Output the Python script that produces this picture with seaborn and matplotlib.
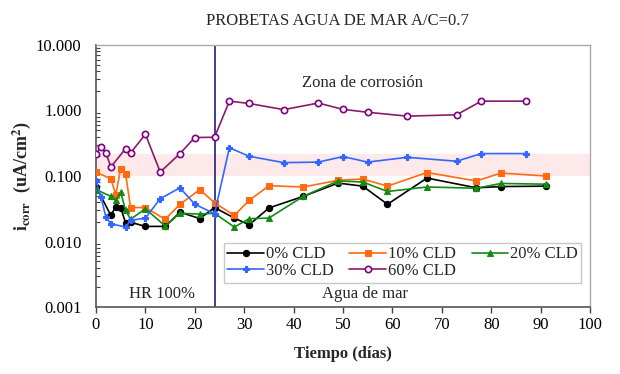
import matplotlib
matplotlib.use("Agg")
import matplotlib.pyplot as plt
import matplotlib.ticker as mticker
import seaborn as sns
import pandas as pd
import numpy as np

# ---- data ----
x_0 = [0, 3, 4, 5, 6, 7, 10, 14, 17, 21, 24, 28, 31, 35, 42, 49, 54, 59, 67, 77, 82, 91]
y_0 = [0.069, 0.025, 0.034, 0.033, 0.019, 0.0197, 0.017, 0.017, 0.028, 0.0224, 0.033,
       0.0228, 0.018, 0.0325, 0.049, 0.078, 0.070, 0.037, 0.093, 0.066, 0.069, 0.070]

x_10 = [0, 3, 4, 5, 6, 7, 10, 14, 17, 21, 24, 28, 31, 35, 42, 49, 54, 59, 67, 77, 82, 91]
y_10 = [0.114, 0.091, 0.052, 0.13, 0.106, 0.033, 0.033, 0.0218, 0.037, 0.062, 0.039,
        0.025, 0.0425, 0.071, 0.068, 0.086, 0.090, 0.070, 0.113, 0.084, 0.111, 0.100]

x_20 = [0, 3, 4, 5, 6, 7, 10, 14, 17, 21, 24, 28, 31, 35, 42, 49, 54, 59, 67, 77, 82, 91]
y_20 = [0.062, 0.049, 0.0425, 0.056, 0.030, 0.0218, 0.0317, 0.0172, 0.027, 0.0262, 0.027,
        0.0166, 0.0223, 0.0228, 0.049, 0.084, 0.081, 0.058, 0.068, 0.065, 0.077, 0.075]

x_30 = [0, 1, 2, 3, 6, 7, 10, 13, 17, 20, 24, 27, 31, 38, 45, 50, 55, 63, 73, 78, 87]
y_30 = [0.083, 0.048, 0.0236, 0.0187, 0.0166, 0.021, 0.0228, 0.045, 0.066, 0.037, 0.0266,
        0.27, 0.20, 0.16, 0.163, 0.198, 0.163, 0.193, 0.168, 0.22, 0.22]

x_60 = [0, 1, 2, 3, 6, 7, 10, 13, 17, 20, 24, 27, 31, 38, 45, 50, 55, 63, 73, 78, 87]
y_60 = [0.215, 0.277, 0.228, 0.137, 0.262, 0.225, 0.434, 0.115, 0.22, 0.387, 0.39,
        1.39, 1.28, 1.03, 1.30, 1.04, 0.94, 0.82, 0.86, 1.39, 1.39]

labels = ["0% CLD", "10% CLD", "20% CLD", "30% CLD", "60% CLD"]
yticks = [0.001, 0.01, 0.1, 1, 10]
ytick_labels = ["0.001", "0.010", "0.100", "1.000", "10.000"]
xticks = [0, 10, 20, 30, 40, 50, 60, 70, 80, 90, 100]
band = (0.1, 0.22)
vline_x = 24

sns.set_theme(style="white")
plt.rcParams["font.family"] = ["Liberation Serif", "DejaVu Serif"]
plt.rcParams["mathtext.fontset"] = "stix"

fig = plt.figure(figsize=(6.2, 3.74), dpi=100)
ax = fig.add_axes([96/620, 1-307/374, (590-96)/620, (307-45)/374])

ax.axhspan(band[0], band[1], color="#FDE9E9", zorder=0, lw=0)
ax.axvline(vline_x, color="#1F1F7A", lw=1.2, zorder=1)

styles = [
    dict(color="black", marker="o", ms=4.5, mfc="black", mec="black"),
    dict(color="#FF6A13", marker="s", ms=5, mfc="#FF6A13", mec="#FF6A13"),
    dict(color="#138A13", marker="^", ms=5, mfc="#138A13", mec="#138A13"),
    dict(color="#3366FF", marker="P", ms=4.5, mfc="#3366FF", mec="#3366FF"),
    dict(color="#8B1A6B", marker="o", ms=4.5, mfc="white", mec="#800080", mew=1.2),
]
series = [(x_0, y_0), (x_10, y_10), (x_20, y_20), (x_30, y_30), (x_60, y_60)]
for (xs, ys), lab, st in zip(series, labels, styles):
    df = pd.DataFrame({"x": xs, "y": ys})
    sns.lineplot(data=df, x="x", y="y", ax=ax, sort=False, label=lab, lw=1.2,
                 color=st["color"], marker=st["marker"], markersize=st["ms"],
                 markerfacecolor=st["mfc"], markeredgecolor=st["mec"],
                 markeredgewidth=st.get("mew", 0.8), zorder=3)

ax.set_yscale("log")
ax.set_ylim(0.001, 10)
ax.set_xlim(0, 100)
ax.set_yticks(yticks)
ax.set_yticklabels(ytick_labels)
ax.yaxis.set_minor_locator(mticker.LogLocator(base=10, subs=np.arange(2, 10)))
ax.yaxis.set_minor_formatter(mticker.NullFormatter())
ax.set_xticks(xticks)
ax.tick_params(axis="both", labelsize=12, colors="black")
ax.tick_params(axis="y", which="major", direction="inout", length=7, width=1, color="#444444", pad=7)
ax.tick_params(axis="y", which="minor", direction="in", length=3, width=0.8, color="#444444", left=True)
ax.tick_params(axis="x", which="major", direction="out", length=4, width=1, color="#444444", bottom=True)

for s in ["left", "bottom"]:
    ax.spines[s].set_color("#555555")
    ax.spines[s].set_linewidth(1.2)
for s in ["top", "right"]:
    ax.spines[s].set_color("#AAAAAA")
    ax.spines[s].set_linewidth(1.0)

ax.set_xlabel("Tiempo (días)", fontsize=12, fontweight="bold", labelpad=9)
ax.set_ylabel(r"$\mathbf{i_{corr}}$  (uA/cm$^{\mathbf{2}}$)", fontsize=13, fontweight="bold", labelpad=2)

ax.text(13.3, 0.0016, "HR 100%", ha="center", va="center", fontsize=12)
ax.text(54.5, 0.0016, "Agua de mar", ha="center", va="center", fontsize=12)
ax.text(54, 2.6, "Zona de corrosión", ha="center", va="center", fontsize=12)

fig.text(337/620, 1-21/374, "PROBETAS AGUA DE MAR A/C=0.7", ha="center", va="center", fontsize=12)

handles, labs = ax.get_legend_handles_labels()
order = [0, 3, 1, 4, 2]
leg = ax.legend([handles[i] for i in order], [labs[i] for i in order],
                ncol=3, fontsize=12, loc="upper left",
                bbox_to_anchor=((224-96)/494, (307-243)/262, (581-224)/494, 0.0),
                mode="expand", frameon=True, fancybox=False, edgecolor="#BBBBBB",
                borderpad=0.2, labelspacing=0.05, handlelength=2.2, handletextpad=0.1,
                columnspacing=0.5, borderaxespad=0)
leg.get_frame().set_linewidth(1.0)

fig.savefig("out.png", dpi=100)
